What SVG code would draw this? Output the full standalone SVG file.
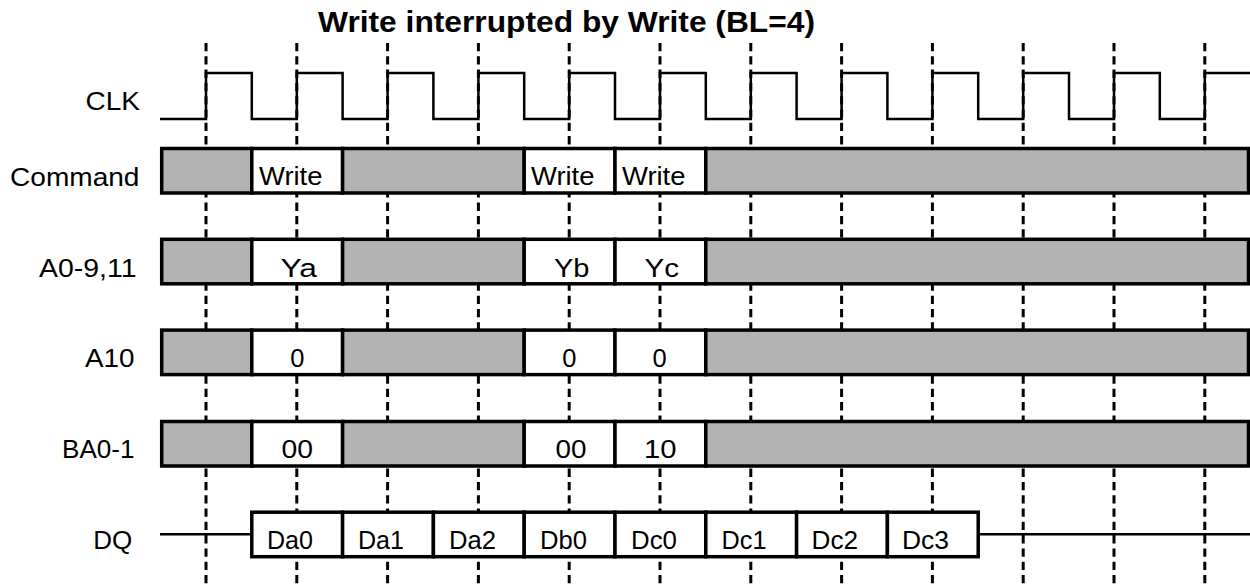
<svg xmlns="http://www.w3.org/2000/svg" width="1250" height="585" viewBox="0 0 1250 585">
<style>
text{font-family:"Liberation Sans",Arial,sans-serif;font-size:25.5px;fill:#000}
.title{font-weight:bold;font-size:30px}
.grid line{stroke:#000;stroke-width:3;stroke-dasharray:8.3 5}
.g{fill:#b3b3b3;stroke:#000;stroke-width:3.5}
.w{fill:#fff;stroke:#000;stroke-width:3.5}
.sig{fill:none;stroke:#000;stroke-width:2.5}
.mid{text-anchor:middle}
</style>
<rect width="1250" height="585" fill="#fff"/>
<text class="title" x="318" y="32" textLength="497" lengthAdjust="spacingAndGlyphs">Write interrupted by Write (BL=4)</text>
<g id="connectors" class="grid">
<line x1="206" y1="43" x2="206" y2="585"/>
<line x1="296.8" y1="43" x2="296.8" y2="585"/>
<line x1="387.6" y1="43" x2="387.6" y2="585"/>
<line x1="478.4" y1="43" x2="478.4" y2="585"/>
<line x1="569.2" y1="43" x2="569.2" y2="585"/>
<line x1="660" y1="43" x2="660" y2="585"/>
<line x1="750.8" y1="43" x2="750.8" y2="585"/>
<line x1="841.6" y1="43" x2="841.6" y2="585"/>
<line x1="932.4" y1="43" x2="932.4" y2="585"/>
<line x1="1023.2" y1="43" x2="1023.2" y2="585"/>
<line x1="1114" y1="43" x2="1114" y2="585"/>
<line x1="1204.8" y1="43" x2="1204.8" y2="585"/>
</g>
<g id="clk">
<text x="85.5" y="110" textLength="54.5" lengthAdjust="spacingAndGlyphs">CLK</text>
<path class="sig" d="M160,119H206V73H251.8V119H296.8V73H342.6V119H387.6V73H433.4V119H478.4V73H524.2V119H569.2V73H615V119H660V73H705.8V119H750.8V73H796.6V119H841.6V73H887.4V119H932.4V73H978.2V119H1023.2V73H1069V119H1114V73H1159.8V119H1204.8V73H1250"/>
</g>
<g id="command">
<text x="10" y="186" textLength="129.5" lengthAdjust="spacingAndGlyphs">Command</text>
<rect class="g" x="161.7" y="148.5" width="90.1" height="44.5"/>
<rect class="w" x="251.8" y="148.5" width="90.8" height="44.5"/>
<rect class="g" x="342.6" y="148.5" width="181.6" height="44.5"/>
<rect class="w" x="524.2" y="148.5" width="90.8" height="44.5"/>
<rect class="w" x="615" y="148.5" width="90.8" height="44.5"/>
<rect class="g" x="705.8" y="148.5" width="542.7" height="44.5"/>
<text x="259" y="185" textLength="63.5" lengthAdjust="spacingAndGlyphs">Write</text>
<text x="531" y="185" textLength="63.5" lengthAdjust="spacingAndGlyphs">Write</text>
<text x="622" y="185" textLength="63.5" lengthAdjust="spacingAndGlyphs">Write</text>
</g>
<g id="a0-9-11">
<text x="39" y="276.7" textLength="97.5" lengthAdjust="spacingAndGlyphs">A0-9,11</text>
<rect class="g" x="161.7" y="239.3" width="90.1" height="44.5"/>
<rect class="w" x="251.8" y="239.3" width="90.8" height="44.5"/>
<rect class="g" x="342.6" y="239.3" width="181.6" height="44.5"/>
<rect class="w" x="524.2" y="239.3" width="90.8" height="44.5"/>
<rect class="w" x="615" y="239.3" width="90.8" height="44.5"/>
<rect class="g" x="705.8" y="239.3" width="542.7" height="44.5"/>
<text x="280.5" y="276.7" textLength="36.5" lengthAdjust="spacingAndGlyphs">Ya</text>
<text x="554" y="276.7" textLength="35.5" lengthAdjust="spacingAndGlyphs">Yb</text>
<text x="644.5" y="276.7" textLength="34.5" lengthAdjust="spacingAndGlyphs">Yc</text>
</g>
<g id="a10">
<text x="85" y="366.7" textLength="49.5" lengthAdjust="spacingAndGlyphs">A10</text>
<rect class="g" x="161.7" y="330.1" width="90.1" height="44.5"/>
<rect class="w" x="251.8" y="330.1" width="90.8" height="44.5"/>
<rect class="g" x="342.6" y="330.1" width="181.6" height="44.5"/>
<rect class="w" x="524.2" y="330.1" width="90.8" height="44.5"/>
<rect class="w" x="615" y="330.1" width="90.8" height="44.5"/>
<rect class="g" x="705.8" y="330.1" width="542.7" height="44.5"/>
<text class="mid" x="297.3" y="366.7">0</text>
<text class="mid" x="569.4" y="366.7">0</text>
<text class="mid" x="659.5" y="366.7">0</text>
</g>
<g id="ba0-1">
<text x="62" y="457.7" textLength="72.5" lengthAdjust="spacingAndGlyphs">BA0-1</text>
<rect class="g" x="161.7" y="421.5" width="90.1" height="44.5"/>
<rect class="w" x="251.8" y="421.5" width="90.8" height="44.5"/>
<rect class="g" x="342.6" y="421.5" width="181.6" height="44.5"/>
<rect class="w" x="524.2" y="421.5" width="90.8" height="44.5"/>
<rect class="w" x="615" y="421.5" width="90.8" height="44.5"/>
<rect class="g" x="705.8" y="421.5" width="542.7" height="44.5"/>
<text x="281.5" y="458.3" textLength="31.5" lengthAdjust="spacingAndGlyphs">00</text>
<text x="555.5" y="458.3" textLength="31" lengthAdjust="spacingAndGlyphs">00</text>
<text x="644" y="458.3" textLength="32.5" lengthAdjust="spacingAndGlyphs">10</text>
</g>
<g id="dq">
<text x="93.2" y="549" textLength="39" lengthAdjust="spacingAndGlyphs">DQ</text>
<path class="sig" d="M160,534.3H251.8M978.2,534.3H1250"/>
<rect class="w" x="251.8" y="512.2" width="90.8" height="44.5"/>
<rect class="w" x="342.6" y="512.2" width="90.8" height="44.5"/>
<rect class="w" x="433.4" y="512.2" width="90.8" height="44.5"/>
<rect class="w" x="524.2" y="512.2" width="90.8" height="44.5"/>
<rect class="w" x="615" y="512.2" width="90.8" height="44.5"/>
<rect class="w" x="705.8" y="512.2" width="90.8" height="44.5"/>
<rect class="w" x="796.6" y="512.2" width="90.8" height="44.5"/>
<rect class="w" x="887.4" y="512.2" width="90.8" height="44.5"/>
<text x="267" y="549" textLength="46" lengthAdjust="spacingAndGlyphs">Da0</text>
<text x="358" y="549" textLength="46" lengthAdjust="spacingAndGlyphs">Da1</text>
<text x="449" y="549" textLength="47" lengthAdjust="spacingAndGlyphs">Da2</text>
<text x="540" y="549" textLength="47" lengthAdjust="spacingAndGlyphs">Db0</text>
<text x="631" y="549" textLength="46" lengthAdjust="spacingAndGlyphs">Dc0</text>
<text x="721.5" y="549" textLength="45" lengthAdjust="spacingAndGlyphs">Dc1</text>
<text x="811.5" y="549" textLength="46.5" lengthAdjust="spacingAndGlyphs">Dc2</text>
<text x="902" y="549" textLength="47" lengthAdjust="spacingAndGlyphs">Dc3</text>
</g>
</svg>
